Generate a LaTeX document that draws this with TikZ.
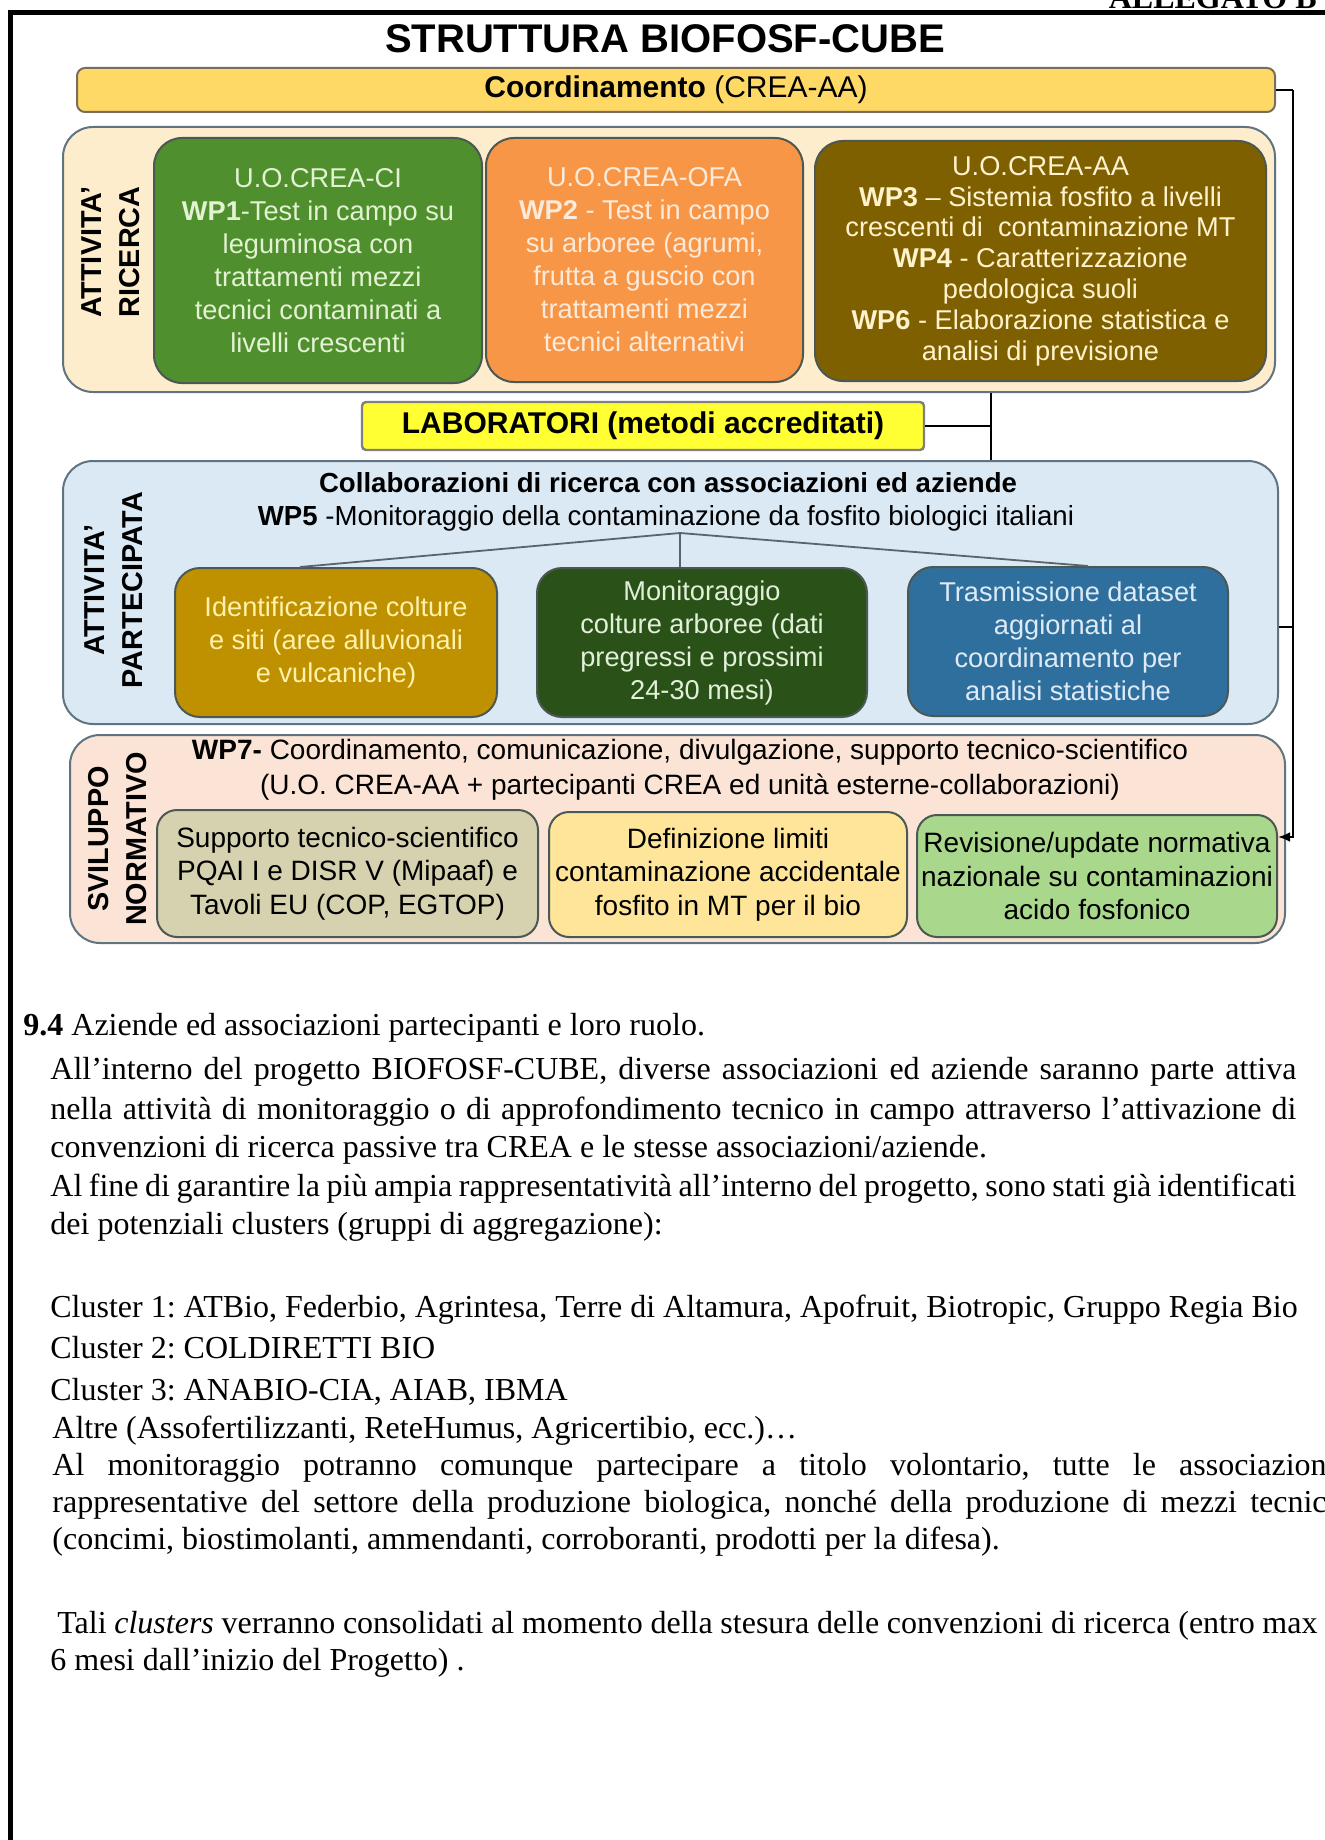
\documentclass[tikz,border=0pt]{standalone}
\usepackage{fontspec}
\setmainfont{Liberation Serif}
\setsansfont{Liberation Sans}
\usetikzlibrary{arrows.meta}
\frenchspacing

\definecolor{coordfill}{RGB}{255,217,102}
\definecolor{coordline}{RGB}{120,110,90}
\definecolor{panelline}{RGB}{96,116,128}
\definecolor{boxline}{RGB}{75,88,84}
\definecolor{ricfill}{RGB}{253,237,204}
\definecolor{wponefill}{RGB}{80,143,45}
\definecolor{wponetext}{RGB}{226,242,210}
\definecolor{wptwofill}{RGB}{247,150,70}
\definecolor{wptwotext}{RGB}{253,234,218}
\definecolor{wpthreefill}{RGB}{127,96,0}
\definecolor{wpthreetext}{RGB}{255,242,204}
\definecolor{labfill}{RGB}{255,255,51}
\definecolor{labline}{RGB}{128,128,128}
\definecolor{partfill}{RGB}{219,233,245}
\definecolor{identfill}{RGB}{191,144,0}
\definecolor{identtext}{RGB}{255,242,170}
\definecolor{monitfill}{RGB}{42,82,24}
\definecolor{monittext}{RGB}{226,240,217}
\definecolor{trasmfill}{RGB}{46,111,157}
\definecolor{trasmtext}{RGB}{222,235,247}
\definecolor{normfill}{RGB}{251,228,213}
\definecolor{suppfill}{RGB}{214,210,175}
\definecolor{deffill}{RGB}{255,229,153}
\definecolor{revfill}{RGB}{169,216,140}
\definecolor{treeline}{RGB}{90,100,110}

\newcommand{\jline}[2]{\makebox[#1][s]{#2}}

\begin{document}
\begin{tikzpicture}[x=0.5pt,y=-0.5pt,
    panel/.style={draw=panelline, line width=1pt, rounded corners=15pt, inner sep=0pt},
    wpbox/.style={draw=boxline, line width=1pt, rounded corners=14pt, inner sep=0pt, align=center,
        font=\sffamily\fontsize{13.6}{16.5}\selectfont},
    normbox/.style={draw=boxline, line width=1pt, rounded corners=10pt, inner sep=0pt, align=center,
        font=\sffamily\fontsize{14}{16.75}\selectfont},
    side/.style={rotate=90, align=center, inner sep=0pt, font=\sffamily\bfseries\fontsize{14.4}{19}\selectfont},
    head/.style={anchor=base, inner sep=0pt},
    link/.style={line width=1.25pt},
    tree/.style={draw=treeline, line width=0.9pt},
    body/.style={anchor=base west, inner sep=0pt, font=\fontsize{16}{19}\selectfont}
]
    \useasboundingbox (0,0) rectangle (1325,1840);

    % Page frame
    \draw [line width=2.5pt] (10.8,1860) -- (10.8,12.5) -- (1340,12.5);
    \node [anchor=base east, inner sep=0pt, font=\bfseries\fontsize{16}{19}\selectfont] (allegato) at (1317,9) {ALLEGATO B};

    % Title
    \node [head, font=\sffamily\bfseries\fontsize{20}{24}\selectfont] (title) at (665,53) {STRUTTURA BIOFOSF-CUBE};

    % Coordinamento
    \node [draw=coordline, fill=coordfill, line width=1pt, rounded corners=4pt, minimum width=599pt, minimum height=22pt, inner sep=0pt,
        font=\sffamily\fontsize{15}{18}\selectfont] (coord) at (676,90) {\textbf{Coordinamento} (CREA-AA)};

    % Attivita' ricerca
    \node [panel, fill=ricfill, minimum width=606pt, minimum height=132.5pt] (ric) at (669,259.5) {};
    \node [side] (riclab) at (111,252) {ATTIVITA’\\RICERCA};
    \node [wpbox, fill=wponefill, text=wponetext, minimum width=164pt, minimum height=122.5pt] (wp1) at (318,260.5)
        {U.O.CREA-CI\\\textbf{WP1}-Test in campo su\\leguminosa con\\trattamenti mezzi\\tecnici contaminati a\\livelli crescenti};
    \node [wpbox, fill=wptwofill, text=wptwotext, minimum width=158.5pt, minimum height=122pt] (wp2) at (644.5,260)
        {U.O.CREA-OFA\\\textbf{WP2} - Test in campo\\su arboree (agrumi,\\frutta a guscio con\\trattamenti mezzi\\tecnici alternativi};
    \node [wpbox, fill=wpthreefill, text=wpthreetext, minimum width=225.5pt, minimum height=120pt,
        font=\sffamily\fontsize{13.6}{15.4}\selectfont] (wp3) at (1040.5,261)
        {U.O.CREA-AA\\\textbf{WP3} – Sistemia fosfito a livelli\\crescenti di\ \ contaminazione MT\\\textbf{WP4} - Caratterizzazione\\pedologica suoli\\\textbf{WP6} - Elaborazione statistica e\\analisi di previsione};

    % Laboratori
    \node [draw=labline, fill=labfill, line width=1.2pt, rounded corners=2pt, minimum width=281pt, minimum height=24pt, inner sep=0pt,
        font=\sffamily\bfseries\fontsize{15}{18}\selectfont] (lab) at (643,426) {LABORATORI (metodi accreditati)};

    % Attivita' partecipata
    \node [panel, fill=partfill, minimum width=607.5pt, minimum height=131.5pt] (part) at (670.5,592.5) {};
    \node [side] (partlab) at (114,590) {ATTIVITA’\\PARTECIPATA};
    \node [head, font=\sffamily\bfseries\fontsize{13.8}{16.5}\selectfont] (parthead) at (668,492) {Collaborazioni di ricerca con associazioni ed aziende};
    \node [head, font=\sffamily\fontsize{13.8}{16.5}\selectfont] (wp5) at (666,525) {\textbf{WP5} -Monitoraggio della contaminazione da fosfito biologici italiani};
    \node [wpbox, rounded corners=12.5pt, fill=identfill, text=identtext, minimum width=161pt, minimum height=74.5pt] (ident) at (336,642.5)
        {Identificazione colture\\e siti (aree alluvionali\\e vulcaniche)};
    \node [wpbox, rounded corners=12.5pt, fill=monitfill, text=monittext, minimum width=165pt, minimum height=74.5pt] (monit) at (702,642.5)
        {Monitoraggio\\colture arboree (dati\\pregressi e prossimi\\24-30 mesi)};
    \node [wpbox, rounded corners=12.5pt, fill=trasmfill, text=trasmtext, minimum width=160pt, minimum height=74.5pt] (trasm) at (1068,641.5)
        {Trasmissione dataset\\aggiornati al\\coordinamento per\\analisi statistiche};

    % Sviluppo normativo
    \node [panel, fill=normfill, minimum width=607.5pt, minimum height=104pt] (norm) at (677.5,839) {};
    \node [side] (normlab) at (118,839) {SVILUPPO\\NORMATIVO};
    \node [head, font=\sffamily\fontsize{14}{17}\selectfont] (wp7) at (690,759) {\textbf{WP7-} Coordinamento, comunicazione, divulgazione, supporto tecnico-scientifico};
    \node [head, font=\sffamily\fontsize{14}{17}\selectfont] (wp7b) at (690,794) {(U.O. CREA-AA + partecipanti CREA ed unità esterne-collaborazioni)};
    \node [normbox, fill=suppfill, minimum width=190.5pt, minimum height=63.5pt] (supp) at (347.5,873.5)
        {Supporto tecnico-scientifico\\PQAI I e DISR V (Mipaaf) e\\Tavoli EU (COP, EGTOP)};
    \node [normbox, fill=deffill, minimum width=179pt, minimum height=62.5pt] (def) at (728,874.5)
        {Definizione limiti\\contaminazione accidentale\\fosfito in MT per il bio};
    \node [normbox, fill=revfill, minimum width=180pt, minimum height=61pt] (rev) at (1097,876)
        {Revisione/update normativa\\nazionale su contaminazioni\\acido fosfonico};

    % Connectors
    \coordinate (rail) at (1293,90);
    \coordinate (trunk) at (991,426);
    \coordinate (apex) at (680,533);
    \draw [link] (coord.east) -- (coord.east -| rail);
    \draw [link, -{Latex[length=6pt,width=5pt]}] (coord.east -| rail) |- ([yshift=19.5pt]rev.east);
    \draw [link] ([yshift=-17.25pt]part.east) -- ([yshift=-17.25pt]part.east -| rail);
    \draw [link] (ric.south -| trunk) -- (part.north -| trunk);
    \draw [link] (lab.east) -- (trunk);
    \draw [tree] ([xshift=-18pt]ident.north) -- (apex) -- ([xshift=10pt]trasm.north);
    \draw [tree] (apex) -- (apex |- monit.north);

    % Text below the chart
    \node [body] (t1) at (23,1035) {\textbf{9.4} Aziende ed associazioni partecipanti e loro ruolo.};
    \node [body] (t2) at (50,1079) {\jline{623pt}{All’interno del progetto BIOFOSF-CUBE, diverse associazioni ed aziende saranno parte attiva}};
    \node [body] (t3) at (50,1119) {\jline{623pt}{nella attività di monitoraggio o di approfondimento tecnico in campo attraverso l’attivazione di}};
    \node [body] (t4) at (50,1157) {convenzioni di ricerca passive tra CREA e le stesse associazioni/aziende.};
    \node [body] (t5) at (50,1196) {\jline{623pt}{Al fine di garantire la più ampia rappresentatività all’interno del progetto, sono stati già identificati}};
    \node [body] (t6) at (50,1234) {dei potenziali clusters (gruppi di aggregazione):};
    \node [body] (t7) at (50,1317) {Cluster 1: ATBio, Federbio, Agrintesa, Terre di Altamura, Apofruit, Biotropic, Gruppo Regia Bio};
    \node [body] (t8) at (50,1358) {Cluster 2: COLDIRETTI BIO};
    \node [body] (t9) at (50,1400) {Cluster 3: ANABIO-CIA, AIAB, IBMA};
    \node [body] (t10) at (52,1438) {Altre (Assofertilizzanti, ReteHumus, Agricertibio, ecc.)…};
    \node [body] (t11) at (52,1475) {\jline{641.5pt}{Al monitoraggio potranno comunque partecipare a titolo volontario, tutte le associazioni}};
    \node [body] (t12) at (52,1512) {\jline{641.5pt}{rappresentative del settore della produzione biologica, nonché della produzione di mezzi tecnici}};
    \node [body] (t13) at (52,1549) {(concimi, biostimolanti, ammendanti, corroboranti, prodotti per la difesa).};
    \node [body] (t14) at (57,1633) {\jline{630pt}{Tali \textit{clusters} verranno consolidati al momento della stesura delle convenzioni di ricerca (entro max}};
    \node [body] (t15) at (50,1670) {6 mesi dall’inizio del Progetto) .};
\end{tikzpicture}
\end{document}
